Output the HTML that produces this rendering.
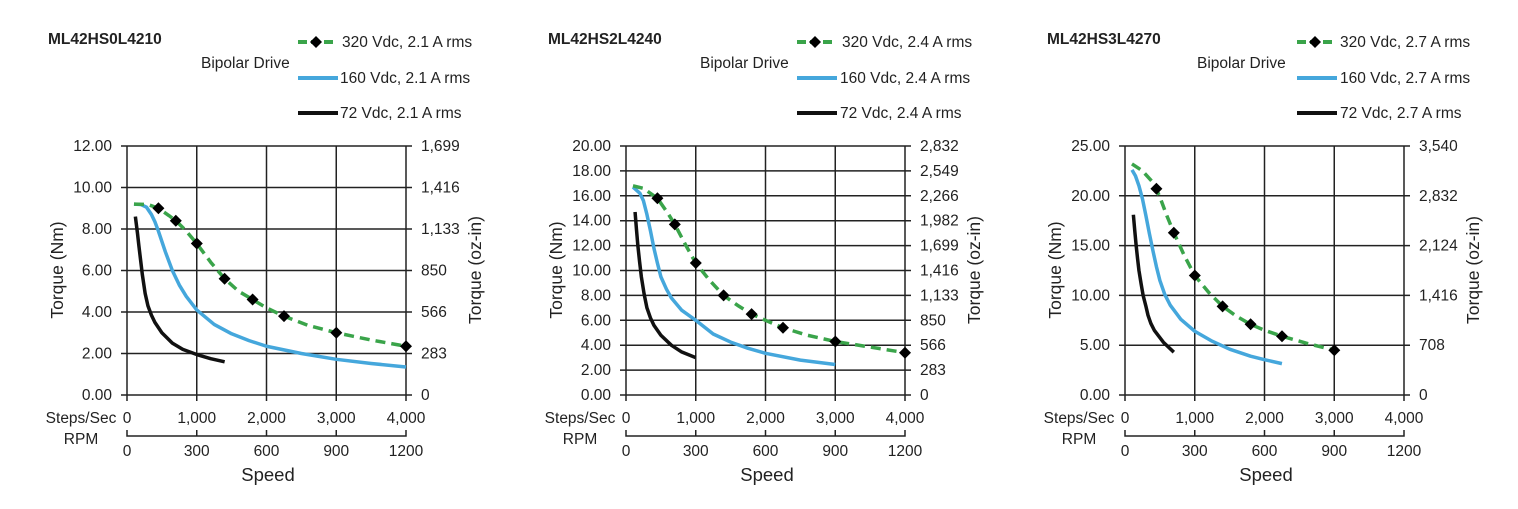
<!DOCTYPE html>
<html><head><meta charset="utf-8"><style>
html,body{margin:0;padding:0;background:#fff;}
svg{display:block;font-family:"Liberation Sans",Arial,sans-serif;}
.t{font-size:15.5px;fill:#222;}
.g{stroke:#222;stroke-width:1.5;fill:none;}
.c{fill:none;stroke-width:3.5;stroke-linejoin:round;stroke-linecap:butt;vector-effect:non-scaling-stroke;}
</style></head><body>
<svg width="1518" height="509" viewBox="0 0 1518 509">
<rect width="1518" height="509" fill="#fff"/>
<defs>
<path id="dm" d="M0,-6 L6,0 L0,6 L-6,0Z" fill="#000"/>
</defs>

<!-- ===== Chart 1 ===== -->
<g>
<text x="48" y="44" font-size="15.5" font-weight="bold" fill="#222">ML42HS0L4210</text>
<text x="201" y="68" class="t">Bipolar Drive</text>
<line x1="298" y1="42" x2="333" y2="42" stroke="#3aa44a" stroke-width="4" stroke-dasharray="9,4"/><use href="#dm" x="316" y="42"/>
<text x="342" y="47" class="t">320 Vdc, 2.1 A rms</text>
<line x1="298" y1="78" x2="338" y2="78" stroke="#45a7dc" stroke-width="4"/>
<text x="340" y="83" class="t">160 Vdc, 2.1 A rms</text>
<line x1="298" y1="113" x2="338" y2="113" stroke="#111" stroke-width="4"/>
<text x="340" y="118" class="t">72 Vdc, 2.1 A rms</text>
</g>
<g transform="translate(127,146)">
<g class="g">
<path d="M-6,0H285M-6,41.5H285M-6,83H285M-6,124.5H285M-6,166H285M-6,207.5H285M-6,249H285"/>
<path d="M0,0V255M69.75,0V255M139.5,0V255M209.25,0V255M279,0V255"/>
<path d="M0,284V290H279V284M69.75,290V284M139.5,290V284M209.25,290V284"/>
</g>
<g class="t" text-anchor="end">
<text x="-15" y="5">12.00</text><text x="-15" y="46.5">10.00</text><text x="-15" y="88">8.00</text><text x="-15" y="129.5">6.00</text><text x="-15" y="171">4.00</text><text x="-15" y="212.5">2.00</text><text x="-15" y="254">0.00</text>
</g>
<g class="t">
<text x="294" y="5">1,699</text><text x="294" y="46.5">1,416</text><text x="294" y="88">1,133</text><text x="294" y="129.5">850</text><text x="294" y="171">566</text><text x="294" y="212.5">283</text><text x="294" y="254">0</text>
</g>
<g class="t" text-anchor="middle">
<text x="0" y="277">0</text><text x="69.75" y="277">1,000</text><text x="139.5" y="277">2,000</text><text x="209.25" y="277">3,000</text><text x="279" y="277">4,000</text>
<text x="0" y="310">0</text><text x="69.75" y="310">300</text><text x="139.5" y="310">600</text><text x="209.25" y="310">900</text><text x="279" y="310">1200</text>
<text x="-46" y="277">Steps/Sec</text><text x="-46" y="298">RPM</text>
<text x="141" y="335" font-size="18.5">Speed</text>
<text transform="translate(-64,124) rotate(-90)" font-size="17.5">Torque (Nm)</text>
<text transform="translate(354,124) rotate(-90)" font-size="17.5">Torque (oz-in)</text>
</g>
<svg x="0" y="0" width="279" height="249" viewBox="0 -1200 4000 1200" preserveAspectRatio="none" overflow="visible">
<polyline class="c" stroke="#111" points="120,-860 150,-780 170,-720 195,-650 220,-580 260,-490 300,-430 350,-385 400,-350 500,-300 650,-250 800,-220 1000,-195 1200,-175 1400,-160"/>
<polyline class="c" stroke="#45a7dc" points="100,-920 200,-918 280,-905 350,-870 400,-835 450,-790 500,-740 550,-690 650,-600 750,-530 850,-475 1000,-410 1250,-340 1500,-295 1750,-262 2000,-235 2500,-200 3000,-172 3500,-152 4000,-135"/>
<polyline class="c" stroke="#3aa44a" stroke-dasharray="10,6" points="100,-920 300,-918 450,-900 600,-865 700,-840 850,-790 1000,-730 1200,-640 1400,-560 1600,-500 1800,-460 2000,-420 2250,-380 2600,-335 3000,-300 3500,-265 4000,-235"/>
</svg>
<g fill="#000">
<use href="#dm" x="31.4" y="62.3"/><use href="#dm" x="48.8" y="74.7"/><use href="#dm" x="69.8" y="97.5"/><use href="#dm" x="97.6" y="132.8"/><use href="#dm" x="125.6" y="153.5"/><use href="#dm" x="157" y="170.1"/><use href="#dm" x="209.3" y="186.7"/><use href="#dm" x="279" y="200.2"/>
</g>
</g>

<!-- ===== Chart 2 ===== -->
<g>
<text x="548" y="44" font-size="15.5" font-weight="bold" fill="#222">ML42HS2L4240</text>
<text x="700" y="68" class="t">Bipolar Drive</text>
<line x1="797" y1="42" x2="832" y2="42" stroke="#3aa44a" stroke-width="4" stroke-dasharray="9,4"/><use href="#dm" x="815" y="42"/>
<text x="842" y="47" class="t">320 Vdc, 2.4 A rms</text>
<line x1="797" y1="78" x2="837" y2="78" stroke="#45a7dc" stroke-width="4"/>
<text x="840" y="83" class="t">160 Vdc, 2.4 A rms</text>
<line x1="797" y1="113" x2="837" y2="113" stroke="#111" stroke-width="4"/>
<text x="840" y="118" class="t">72 Vdc, 2.4 A rms</text>
</g>
<g transform="translate(626,146)">
<g class="g">
<path d="M-6,0H285M-6,24.9H285M-6,49.8H285M-6,74.7H285M-6,99.6H285M-6,124.5H285M-6,149.4H285M-6,174.3H285M-6,199.2H285M-6,224.1H285M-6,249H285"/>
<path d="M0,0V255M69.75,0V255M139.5,0V255M209.25,0V255M279,0V255"/>
<path d="M0,284V290H279V284M69.75,290V284M139.5,290V284M209.25,290V284"/>
</g>
<g class="t" text-anchor="end">
<text x="-15" y="5">20.00</text><text x="-15" y="29.9">18.00</text><text x="-15" y="54.8">16.00</text><text x="-15" y="79.7">14.00</text><text x="-15" y="104.6">12.00</text><text x="-15" y="129.5">10.00</text><text x="-15" y="154.4">8.00</text><text x="-15" y="179.3">6.00</text><text x="-15" y="204.2">4.00</text><text x="-15" y="229.1">2.00</text><text x="-15" y="254">0.00</text>
</g>
<g class="t">
<text x="294" y="5">2,832</text><text x="294" y="29.9">2,549</text><text x="294" y="54.8">2,266</text><text x="294" y="79.7">1,982</text><text x="294" y="104.6">1,699</text><text x="294" y="129.5">1,416</text><text x="294" y="154.4">1,133</text><text x="294" y="179.3">850</text><text x="294" y="204.2">566</text><text x="294" y="229.1">283</text><text x="294" y="254">0</text>
</g>
<g class="t" text-anchor="middle">
<text x="0" y="277">0</text><text x="69.75" y="277">1,000</text><text x="139.5" y="277">2,000</text><text x="209.25" y="277">3,000</text><text x="279" y="277">4,000</text>
<text x="0" y="310">0</text><text x="69.75" y="310">300</text><text x="139.5" y="310">600</text><text x="209.25" y="310">900</text><text x="279" y="310">1200</text>
<text x="-46" y="277">Steps/Sec</text><text x="-46" y="298">RPM</text>
<text x="141" y="335" font-size="18.5">Speed</text>
<text transform="translate(-64,124) rotate(-90)" font-size="17.5">Torque (Nm)</text>
<text transform="translate(354,124) rotate(-90)" font-size="17.5">Torque (oz-in)</text>
</g>
<svg x="0" y="0" width="279" height="249" viewBox="0 -2000 4000 2000" preserveAspectRatio="none" overflow="visible">
<polyline class="c" stroke="#111" points="130,-1470 150,-1330 170,-1200 195,-1070 220,-950 260,-810 300,-700 350,-620 400,-560 500,-480 650,-400 800,-345 1000,-300"/>
<polyline class="c" stroke="#45a7dc" points="100,-1670 200,-1620 250,-1560 300,-1450 350,-1320 400,-1180 450,-1060 500,-950 580,-850 650,-780 800,-680 1000,-600 1250,-490 1500,-425 1750,-375 2000,-335 2500,-280 3000,-245"/>
<polyline class="c" stroke="#3aa44a" stroke-dasharray="10,6" points="100,-1680 250,-1660 450,-1580 600,-1460 700,-1370 850,-1210 1000,-1060 1200,-920 1400,-800 1600,-720 1800,-650 2000,-600 2250,-540 2600,-480 3000,-430 3500,-385 4000,-340"/>
</svg>
<g>
<use href="#dm" x="31.4" y="52.3"/><use href="#dm" x="48.8" y="78.4"/><use href="#dm" x="69.8" y="117"/><use href="#dm" x="97.6" y="149.4"/><use href="#dm" x="125.6" y="168.1"/><use href="#dm" x="157" y="181.8"/><use href="#dm" x="209.3" y="195.5"/><use href="#dm" x="279" y="206.7"/>
</g>
</g>

<!-- ===== Chart 3 ===== -->
<g>
<text x="1047" y="44" font-size="15.5" font-weight="bold" fill="#222">ML42HS3L4270</text>
<text x="1197" y="68" class="t">Bipolar Drive</text>
<line x1="1297" y1="42" x2="1332" y2="42" stroke="#3aa44a" stroke-width="4" stroke-dasharray="9,4"/><use href="#dm" x="1315" y="42"/>
<text x="1340" y="47" class="t">320 Vdc, 2.7 A rms</text>
<line x1="1297" y1="78" x2="1337" y2="78" stroke="#45a7dc" stroke-width="4"/>
<text x="1340" y="83" class="t">160 Vdc, 2.7 A rms</text>
<line x1="1297" y1="113" x2="1337" y2="113" stroke="#111" stroke-width="4"/>
<text x="1340" y="118" class="t">72 Vdc, 2.7 A rms</text>
</g>
<g transform="translate(1125,146)">
<g class="g">
<path d="M-6,0H285M-6,49.8H285M-6,99.6H285M-6,149.4H285M-6,199.2H285M-6,249H285"/>
<path d="M0,0V255M69.75,0V255M139.5,0V255M209.25,0V255M279,0V255"/>
<path d="M0,284V290H279V284M69.75,290V284M139.5,290V284M209.25,290V284"/>
</g>
<g class="t" text-anchor="end">
<text x="-15" y="5">25.00</text><text x="-15" y="54.8">20.00</text><text x="-15" y="104.6">15.00</text><text x="-15" y="154.4">10.00</text><text x="-15" y="204.2">5.00</text><text x="-15" y="254">0.00</text>
</g>
<g class="t">
<text x="294" y="5">3,540</text><text x="294" y="54.8">2,832</text><text x="294" y="104.6">2,124</text><text x="294" y="154.4">1,416</text><text x="294" y="204.2">708</text><text x="294" y="254">0</text>
</g>
<g class="t" text-anchor="middle">
<text x="0" y="277">0</text><text x="69.75" y="277">1,000</text><text x="139.5" y="277">2,000</text><text x="209.25" y="277">3,000</text><text x="279" y="277">4,000</text>
<text x="0" y="310">0</text><text x="69.75" y="310">300</text><text x="139.5" y="310">600</text><text x="209.25" y="310">900</text><text x="279" y="310">1200</text>
<text x="-46" y="277">Steps/Sec</text><text x="-46" y="298">RPM</text>
<text x="141" y="335" font-size="18.5">Speed</text>
<text transform="translate(-64,124) rotate(-90)" font-size="17.5">Torque (Nm)</text>
<text transform="translate(354,124) rotate(-90)" font-size="17.5">Torque (oz-in)</text>
</g>
<svg x="0" y="0" width="279" height="249" viewBox="0 -2500 4000 2500" preserveAspectRatio="none" overflow="visible">
<polyline class="c" stroke="#111" points="120,-1810 140,-1650 160,-1500 180,-1370 200,-1250 230,-1120 260,-1000 300,-890 330,-800 370,-720 420,-650 550,-530 700,-430"/>
<polyline class="c" stroke="#45a7dc" points="100,-2260 150,-2200 200,-2100 250,-1970 300,-1800 350,-1620 400,-1450 450,-1290 500,-1150 570,-1010 650,-900 800,-760 1000,-640 1250,-540 1500,-460 1800,-390 2000,-355 2250,-315"/>
<polyline class="c" stroke="#3aa44a" stroke-dasharray="10,6" points="100,-2320 250,-2250 380,-2150 450,-2070 520,-1950 600,-1800 700,-1630 850,-1400 1000,-1200 1200,-1030 1400,-890 1600,-790 1800,-710 2000,-650 2250,-590 2600,-520 3000,-450"/>
</svg>
<g>
<use href="#dm" x="31.4" y="42.8"/><use href="#dm" x="48.8" y="86.7"/><use href="#dm" x="69.8" y="129.5"/><use href="#dm" x="97.6" y="160.4"/><use href="#dm" x="125.6" y="178.3"/><use href="#dm" x="157" y="190.2"/><use href="#dm" x="209.3" y="204.2"/>
</g>
</g>
</svg>
</body></html>
